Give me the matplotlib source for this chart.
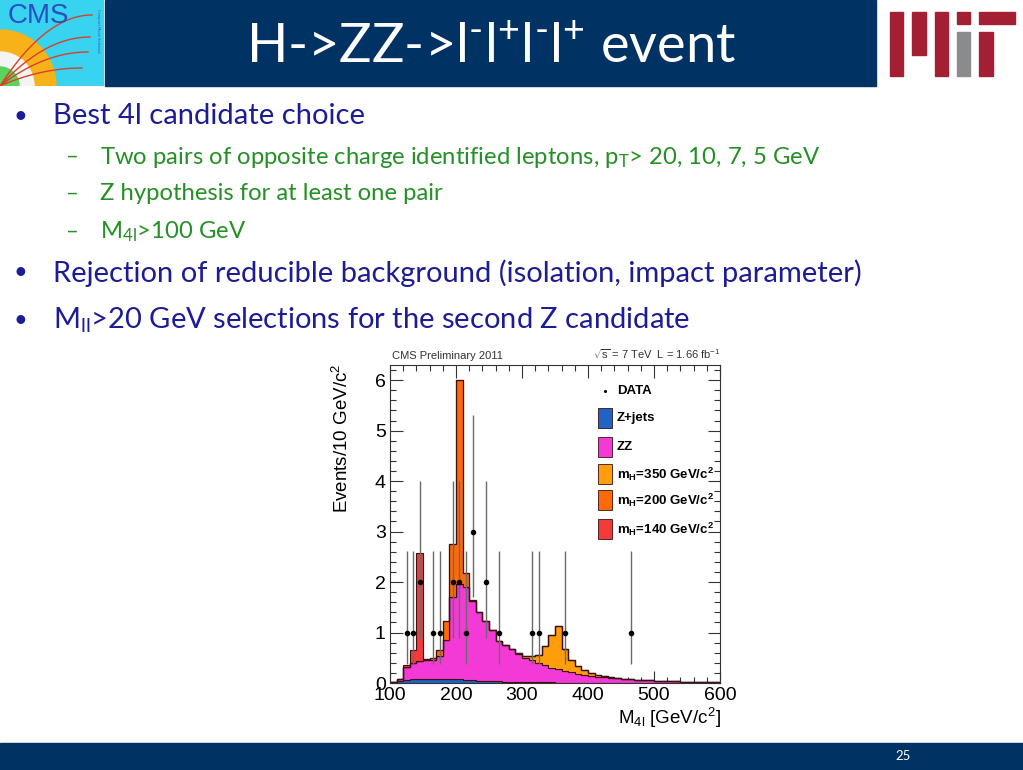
import numpy as np
import matplotlib
matplotlib.use("Agg")
import matplotlib.pyplot as plt
from matplotlib.patches import Rectangle, Wedge

plt.rcParams['mathtext.fontset'] = 'custom'
plt.rcParams['mathtext.rm'] = 'Lato'
plt.rcParams['mathtext.it'] = 'Lato:italic'
plt.rcParams['mathtext.bf'] = 'Lato:bold'
plt.rcParams['mathtext.default'] = 'regular'

# ---------------- data ----------------
bin_edges = np.arange(100, 610, 10)

zjets = [0.01, 0.03, 0.05, 0.07, 0.08, 0.085, 0.085, 0.08, 0.08, 0.075,
         0.07, 0.06, 0.05, 0.045, 0.04, 0.035, 0.03, 0.025, 0.02, 0.018,
         0.015, 0.013, 0.012, 0.011, 0.010, 0.009, 0.008, 0.007, 0.006, 0.006,
         0.005, 0.005, 0.004, 0.004, 0.004, 0.003, 0.003, 0.003, 0.003, 0.002,
         0.002, 0.002, 0.002, 0.002, 0.001, 0.001, 0.001, 0.001, 0.001, 0.001]

zz = [0.01, 0.05, 0.27, 0.33, 0.36, 0.365, 0.375, 0.45, 0.78, 1.625,
      1.90, 1.84, 1.57, 1.355, 1.18, 1.015, 0.80, 0.735, 0.65, 0.562,
      0.485, 0.447, 0.388, 0.339, 0.29, 0.261, 0.232, 0.203, 0.174, 0.154,
      0.135, 0.115, 0.106, 0.096, 0.086, 0.077, 0.067, 0.057, 0.052, 0.048,
      0.043, 0.038, 0.033, 0.028, 0.026, 0.024, 0.021, 0.019, 0.017, 0.014]

h350 = [0, 0, 0, 0, 0, 0, 0, 0, 0, 0,
        0, 0, 0, 0, 0, 0, 0, 0, 0, 0.02,
        0.04, 0.07, 0.15, 0.38, 0.65, 0.85, 0.44, 0.25, 0.15, 0.10,
        0.06, 0.04, 0.03, 0.02, 0.01, 0, 0, 0, 0, 0,
        0, 0, 0, 0, 0, 0, 0, 0, 0, 0]

h200 = [0, 0, 0, 0, 0, 0.03, 0.04, 0.12, 0.36, 1.05,
        4.03, 0.28, 0.03, 0, 0, 0, 0, 0, 0, 0,
        0, 0, 0, 0, 0, 0, 0, 0, 0, 0,
        0, 0, 0, 0, 0, 0, 0, 0, 0, 0,
        0, 0, 0, 0, 0, 0, 0, 0, 0, 0]

h140 = [0, 0, 0.04, 0.25, 2.14, 0, 0, 0, 0, 0,
        0, 0, 0, 0, 0, 0, 0, 0, 0, 0,
        0, 0, 0, 0, 0, 0, 0, 0, 0, 0,
        0, 0, 0, 0, 0, 0, 0, 0, 0, 0,
        0, 0, 0, 0, 0, 0, 0, 0, 0, 0]

data_x = [125, 135, 145, 165, 175, 195, 205, 215, 225, 245, 265, 315, 325, 365, 465]
data_y = [1, 1, 2, 1, 1, 2, 2, 1, 3, 2, 1, 1, 1, 1, 1]
err_lo = {1: 0.63, 2: 1.1, 3: 1.3}
err_hi = {1: 1.62, 2: 2.0, 3: 2.3}

legend_labels = ["DATA", "Z+jets", "ZZ", r"m$_{H}$=350 GeV/c$^{2}$",
                 r"m$_{H}$=200 GeV/c$^{2}$", r"m$_{H}$=140 GeV/c$^{2}$"]
colors = ["#1f63c6", "#f43ad6", "#ff9d0a", "#ff6a08", "#f53a3a"]

# ---------------- figure ----------------
W, H = 1023, 770
fig = plt.figure(figsize=(W / 100, H / 100), dpi=100)
fig.patch.set_facecolor("white")

def fx(x):
    return x / W

def fy(y):
    return 1 - y / H

slide_blue = "#003263"

# title bar
fig.patches.append(Rectangle((fx(105), fy(86)), fx(876) - fx(105), 86 / H,
                             transform=fig.transFigure, color=slide_blue, zorder=0))
# bottom bar
fig.patches.append(Rectangle((0, 0), 1, 27 / H, transform=fig.transFigure,
                             color=slide_blue, zorder=0))
fig.text(fx(903), fy(756), "25", color="white", fontsize=9.5, family="Lato",
         ha="center", va="center")

fig.text(fx(491), fy(47), r"H->ZZ->l$^{\text{-}}$l$^{+}$l$^{\text{-}}$l$^{+}$ event", color="white",
         fontsize=39, family="Lato", ha="center", va="center")

# CMS logo
lax = fig.add_axes([0, fy(86), fx(104), 86 / H])
lax.set_xlim(0, 104)
lax.set_ylim(0, 86)
lax.axis("off")
lax.add_patch(Rectangle((0, 0), 104, 86, color="#38d3ee"))
lax.add_patch(Wedge((0, 0), 56, 0, 90, width=22, color="#f7b21a"))
lax.add_patch(Wedge((0, 0), 34, 0, 90, width=15, color="#f4f4f4"))
lax.add_patch(Wedge((0, 0), 19, 0, 90, color="#5bd45b"))
for (ex, ey) in [(92, 71), (90, 49), (88, 34), (82, 18)]:
    t = np.linspace(0, 1, 30)
    xs = ex * t
    ys = ey * (1 - (1 - t) ** 2)
    lax.plot(xs, ys, color="#d8402a", lw=1.0)
lax.text(38, 70, "CMS", color="#2a4fc0", fontsize=20, family="Liberation Sans",
         ha="center", va="center")
lax.text(98, 55, "Compact Muon Solenoid", color="#2a4fc0", fontsize=2.5,
         rotation=-90, ha="center", va="center")

# MIT logo
mit_red = "#a31f34"
mit_gray = "#8a8b8c"
for (x0, y0, x1, y1, c) in [(890, 12, 903, 76, mit_red), (912, 12, 926, 55, mit_red),
                            (935, 12, 948, 76, mit_red), (957, 12, 970, 24, mit_red),
                            (957, 32, 970, 76, mit_gray), (979, 12, 1015, 24, mit_red),
                            (979, 32, 993, 76, mit_red)]:
    fig.patches.append(Rectangle((fx(x0), fy(y1)), fx(x1) - fx(x0), (y1 - y0) / H,
                                 transform=fig.transFigure, color=c, zorder=1))

# bullets
blue_txt = "#1c1c96"
green_txt = "#259025"
main_items = [(116, "Best 4l candidate choice"),
              (273, "Rejection of reducible background (isolation, impact parameter)"),
              (320, r"M$_{ll}$>20 GeV selections for the second Z candidate")]
sub_items = [(157, r"Two pairs of opposite charge identified leptons, p$_{T}$> 20, 10, 7, 5 GeV"),
             (194, "Z hypothesis for at least one pair"),
             (232, r"M$_{4l}$>100 GeV")]
for y, s in main_items:
    fig.text(fx(14), fy(y), "\u2022", color=blue_txt, fontsize=17, family="Lato",
             ha="left", va="center")
    fig.text(fx(53), fy(y), s, color=blue_txt, fontsize=21, family="Lato",
             ha="left", va="center")
for y, s in sub_items:
    fig.text(fx(66), fy(y), "\u2013", color=green_txt, fontsize=16, family="Lato",
             ha="left", va="center")
    fig.text(fx(100), fy(y), s, color=green_txt, fontsize=17.2, family="Lato",
             ha="left", va="center")

# ---------------- chart ----------------
ax = fig.add_axes([fx(390), fy(683), fx(720) - fx(390), (683 - 365) / H])
zj = np.array(zjets)
c1 = zj
c2 = c1 + np.array(zz)
c3 = c2 + np.array(h350)
c4 = c3 + np.array(h200)
c5 = c4 + np.array(h140)
edge = "#3a1010"
ax.stairs(c1, bin_edges, baseline=0, fill=True, facecolor=colors[0], edgecolor=edge, lw=0.8, zorder=2)
ax.stairs(c2, bin_edges, baseline=c1, fill=True, facecolor=colors[1], edgecolor=edge, lw=0.8, zorder=2)
ax.stairs(c3, bin_edges, baseline=c2, fill=True, facecolor=colors[2], edgecolor=edge, lw=0.8, zorder=2)
ax.stairs(c4, bin_edges, baseline=c3, fill=True, facecolor=colors[3], edgecolor=edge, lw=0.8, zorder=2)
ax.stairs(c5, bin_edges, baseline=c4, fill=True, facecolor=colors[4], edgecolor=edge, lw=0.8, zorder=2)

lo = [err_lo[v] for v in data_y]
hi = [err_hi[v] for v in data_y]
ax.errorbar(data_x, data_y, yerr=[lo, hi], fmt="o", ms=3, color="black",
            ecolor="#6a6a6a", elinewidth=1.0, capsize=0, zorder=4)

ax.set_xlim(100, 600)
ax.set_ylim(0, 6.3)
ax.set_xticks([100, 200, 300, 400, 500, 600])
ax.set_yticks([0, 1, 2, 3, 4, 5, 6])
ax.set_xticks(np.arange(100, 601, 20), minor=True)
ax.set_yticks(np.arange(0, 6.31, 0.2), minor=True)
ax.tick_params(which="both", direction="in", top=True, right=True, width=0.8, color="#333333")
ax.tick_params(which="major", length=9, labelsize=14)
ax.tick_params(axis="x", which="major", pad=3)
ax.tick_params(axis="y", which="major", pad=3)
ax.tick_params(which="minor", length=4.5)
for lab in ax.get_xticklabels() + ax.get_yticklabels():
    lab.set_family("Liberation Sans")
for sp in ax.spines.values():
    sp.set_linewidth(0.8)
    sp.set_color("#333333")

fig.text(fx(342), fy(364), r"Events/10 GeV/c$^{2}$", rotation=90, fontsize=13.5,
         family="Liberation Sans", ha="center", va="top")
fig.text(fx(721), fy(718), r"M$_{4l}$ [GeV/c$^{2}$]", fontsize=13.5,
         family="Liberation Sans", ha="right", va="center")
ax.text(0.005, 1.012, "CMS Preliminary 2011", transform=ax.transAxes, fontsize=8,
        family="Liberation Sans", ha="left", va="bottom", color="#333333")
ax.text(1.0, 1.012, r"$\sqrt{s}$ = 7 TeV  L = 1.66 fb$^{-1}$", transform=ax.transAxes,
        fontsize=8, family="Liberation Sans", ha="right", va="bottom", color="#333333")

# legend (manual, ROOT-like)
ly = [0.918, 0.833, 0.742, 0.657, 0.575, 0.484]
for i, lab in enumerate(legend_labels):
    if i == 0:
        ax.plot([0.651], [ly[i]], "o", ms=1.2, color="black", transform=ax.transAxes)
    else:
        ax.add_patch(Rectangle((0.630, ly[i] - 0.032), 0.043, 0.064, transform=ax.transAxes,
                               facecolor=colors[i - 1], edgecolor=edge, lw=0.6, zorder=5))
    ax.text(0.688, ly[i], lab, transform=ax.transAxes, fontsize=9.5, fontweight="bold",
            family="Liberation Sans", ha="left", va="center", zorder=6)

fig.savefig("out.png", dpi=100)
